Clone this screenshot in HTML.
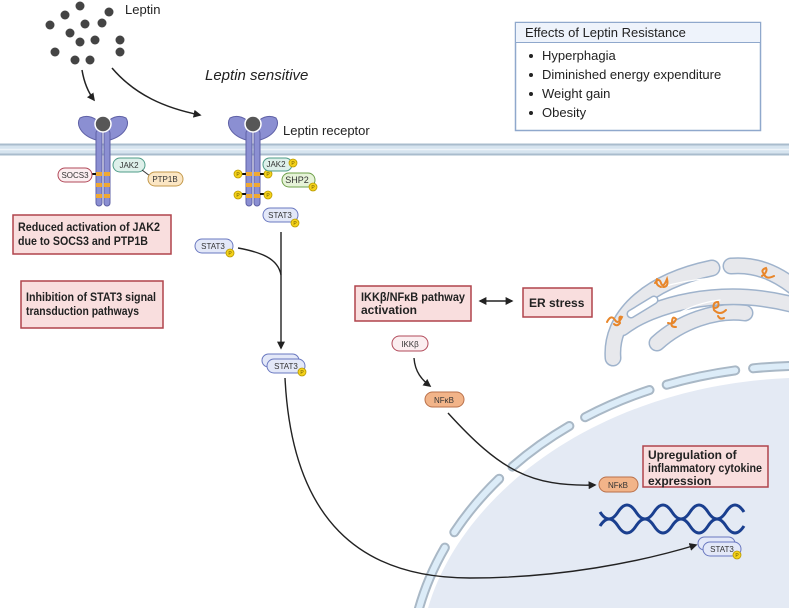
<!DOCTYPE html>
<html><head><meta charset="utf-8"><style>
html,body{margin:0;padding:0;background:#fff}
svg{display:block}
text{font-family:"Liberation Sans",sans-serif}
</style></head><body>
<svg width="789" height="608" viewBox="0 0 789 608" xmlns="http://www.w3.org/2000/svg">
<defs>
<marker id="ah" viewBox="0 0 10 10" refX="8" refY="5" markerWidth="8" markerHeight="8" orient="auto-start-reverse" markerUnits="userSpaceOnUse"><path d="M0,0 L10,5 L0,10 z" fill="#222"/></marker>
<g id="pdot"><circle r="4" fill="#f5d21a" stroke="#b89a00" stroke-width="0.8"/><text y="2" font-size="5" text-anchor="middle" fill="#6b5800">P</text></g>
</defs>

<!-- nucleus -->
<path d="M428 608 C 462 492, 600 386, 789 378 L789 608 Z" fill="#e4eaf4"/>
<path d="M418 612 C 452 484, 592 372, 789 366" fill="none" stroke="#a9b8c6" stroke-width="10" stroke-linecap="round" stroke-dasharray="70 18"/>
<path d="M418 612 C 452 484, 592 372, 789 366" fill="none" stroke="#dcecf8" stroke-width="6" stroke-linecap="round" stroke-dasharray="70 18"/>

<!-- ER -->
<g fill="none" stroke-linecap="round">
<g stroke="#9fb3cc" stroke-width="17">
<path d="M613 358 C 610 318, 645 282, 712 268"/>
<path d="M731 266 C 755 264, 776 272, 798 290"/>
<path d="M622 328 C 650 306, 720 284, 798 306"/>
<path d="M657 343 C 680 322, 715 309, 745 313"/>
</g>
<g stroke="#e7e8ec" stroke-width="14">
<path d="M613 358 C 610 318, 645 282, 712 268"/>
<path d="M731 266 C 755 264, 776 272, 798 290"/>
<path d="M622 328 C 650 306, 720 284, 798 306"/>
<path d="M657 343 C 680 322, 715 309, 745 313"/>
</g>
<path d="M631 314 L 654 300" stroke="#9fb3cc" stroke-width="9"/>
<path d="M631 314 L 654 300" stroke="#fff" stroke-width="6"/>
<path d="M662 287 C 690 279, 720 275, 765 280" stroke="#fff" stroke-width="1.2"/>
<path d="M676 315 C 690 306, 705 302, 720 300" stroke="#fff" stroke-width="1.2"/>
<g stroke="#e8862a" stroke-width="2">
<path d="M607 322 q4 -8 8 -2 q3 5 7 -3 q-4 -2 -2 6 q-3 4 -6 1"/>
<path d="M655 283 q4 -6 6 0 q2 6 6 -4 q2 8 -4 8 m-6 -8 q-2 6 4 8"/>
<path d="M668 323 q6 2 8 -4 q-4 -4 -4 4 q-2 4 4 4"/>
<path d="M714 308 q6 0 4 -6 q-6 0 -4 8 q6 6 12 0 m-8 6 q2 4 6 2"/>
<path d="M762 276 q6 -4 4 -8 q-6 2 -2 6 q2 6 10 2"/>
</g>
</g>

<!-- membrane -->
<rect x="0" y="144" width="789" height="11" fill="#d6e4ef"/>
<line x1="0" y1="144.5" x2="789" y2="144.5" stroke="#a9bccd" stroke-width="2"/>
<line x1="0" y1="154.5" x2="789" y2="154.5" stroke="#a9bccd" stroke-width="2"/>
<line x1="0" y1="149.5" x2="789" y2="149.5" stroke="#eef4f9" stroke-width="1.5"/>

<!-- leptin dots -->
<g fill="#444">
<circle cx="80" cy="6" r="4.5"/><circle cx="65" cy="15" r="4.5"/><circle cx="109" cy="12" r="4.5"/>
<circle cx="50" cy="25" r="4.5"/><circle cx="85" cy="24" r="4.5"/><circle cx="102" cy="23" r="4.5"/>
<circle cx="70" cy="33" r="4.5"/><circle cx="80" cy="42" r="4.5"/><circle cx="95" cy="40" r="4.5"/>
<circle cx="120" cy="40" r="4.5"/><circle cx="55" cy="52" r="4.5"/><circle cx="75" cy="60" r="4.5"/>
<circle cx="90" cy="60" r="4.5"/><circle cx="120" cy="52" r="4.5"/>
</g>
<text x="125" y="14" font-size="13" fill="#222">Leptin</text>
<text x="205" y="80" font-size="15" font-style="italic" fill="#222">Leptin sensitive</text>
<text x="283" y="135" font-size="13" fill="#222">Leptin receptor</text>

<g fill="none" stroke="#222" stroke-width="1.5">
<path d="M82 70 C 84 82, 88 92, 94 100" marker-end="url(#ah)"/>
<path d="M112 68 C 135 95, 165 108, 200 115" marker-end="url(#ah)"/>
</g>

<!-- receptors -->
<g id="rec">
<path d="M96 140 C 80 135, 76 124, 80 118 C 88 114, 96 118, 100 124 Z" fill="#8b8fd2" stroke="#5f61a6"/>
<path d="M110 140 C 126 135, 130 124, 126 118 C 118 114, 110 118, 106 124 Z" fill="#8b8fd2" stroke="#5f61a6"/>
<rect x="96" y="130" width="6" height="76" rx="3" fill="#8b8fd2" stroke="#5f61a6"/>
<rect x="104" y="130" width="6" height="76" rx="3" fill="#8b8fd2" stroke="#5f61a6"/>
<circle cx="103" cy="124" r="8" fill="#575757" stroke="#fff" stroke-width="1.5"/>
<g fill="#f0a830"><rect x="96" y="172" width="6" height="4"/><rect x="104" y="172" width="6" height="4"/>
<rect x="96" y="183" width="6" height="4"/><rect x="104" y="183" width="6" height="4"/>
<rect x="96" y="194" width="6" height="4"/><rect x="104" y="194" width="6" height="4"/></g>
</g>
<use href="#rec" x="150"/>

<g font-size="8" text-anchor="middle" fill="#333">
<line x1="92" y1="174" x2="96" y2="174" stroke="#111" stroke-width="2"/>
<rect x="58" y="168" width="34" height="14" rx="7" fill="#fbeef0" stroke="#b24a5a"/><text x="75" y="178">SOCS3</text>
<rect x="113" y="158" width="32" height="14" rx="7" fill="#def0ea" stroke="#4f9c88"/><text x="129" y="168">JAK2</text>
<line x1="142" y1="170" x2="150" y2="176" stroke="#333"/>
<rect x="148" y="172" width="35" height="14" rx="7" fill="#fbe6c4" stroke="#c49a4c"/><text x="165" y="182">PTP1B</text>

<g stroke="#111" stroke-width="2"><line x1="240" y1="174" x2="246" y2="174"/><line x1="260" y1="174" x2="266" y2="174"/><line x1="240" y1="194" x2="246" y2="194"/><line x1="260" y1="194" x2="266" y2="194"/></g>
<use href="#pdot" x="238" y="174"/><use href="#pdot" x="268" y="174"/><use href="#pdot" x="238" y="195"/><use href="#pdot" x="268" y="195"/>
<rect x="263" y="158" width="29" height="13" rx="6.5" fill="#def0ea" stroke="#4f9c88"/><text x="276" y="167">JAK2</text><use href="#pdot" x="293" y="163"/>
<rect x="282" y="173" width="33" height="14" rx="7" fill="#e6f3d8" stroke="#6fa04a"/><text x="297" y="183" font-size="9">SHP2</text><use href="#pdot" x="313" y="187"/>
<rect x="263" y="208" width="35" height="14" rx="7" fill="#e3e8f8" stroke="#6a78c0"/><text x="280" y="218">STAT3</text><use href="#pdot" x="295" y="223"/>
<rect x="195" y="239" width="38" height="14" rx="7" fill="#e3e8f8" stroke="#6a78c0"/><text x="213" y="249">STAT3</text><use href="#pdot" x="230" y="253"/>
<rect x="262" y="354" width="37" height="13" rx="6.5" fill="#e3e8f8" stroke="#6a78c0"/>
<rect x="267" y="359" width="38" height="14" rx="7" fill="#e3e8f8" stroke="#6a78c0"/><text x="286" y="369">STAT3</text><use href="#pdot" x="302" y="372"/>
<rect x="392" y="336" width="36" height="15" rx="7.5" fill="#fbeef0" stroke="#b24a5a"/><text x="410" y="347">IKKβ</text>
<rect x="425" y="392" width="39" height="15" rx="7.5" fill="#f2b489" stroke="#b9704a"/><text x="444" y="403">NFκB</text>
<rect x="599" y="477" width="39" height="15" rx="7.5" fill="#f2b489" stroke="#b9704a"/><text x="618" y="488">NFκB</text>
<rect x="698" y="537" width="37" height="13" rx="6.5" fill="#e3e8f8" stroke="#6a78c0"/>
<rect x="703" y="542" width="38" height="14" rx="7" fill="#e3e8f8" stroke="#6a78c0"/><text x="722" y="552">STAT3</text><use href="#pdot" x="737" y="555"/>
</g>

<!-- DNA -->
<g fill="none" stroke="#1a3f8f" stroke-width="3">
<path d="M600 512 q9 14 18 0 q9 -14 18 0 q9 14 18 0 q9 -14 18 0 q9 14 18 0 q9 -14 18 0 q9 14 18 0 q9 -14 18 0"/>
<path d="M600 526 q9 -14 18 0 q9 14 18 0 q9 -14 18 0 q9 14 18 0 q9 -14 18 0 q9 14 18 0 q9 -14 18 0 q9 14 18 0"/>
</g>

<!-- connectors -->
<g fill="none" stroke="#222" stroke-width="1.4">
<line x1="281" y1="232" x2="281" y2="348" marker-end="url(#ah)"/>
<path d="M238 248 C 260 252, 278 258, 281 275"/>
<path d="M285 378 C 292 520, 360 578, 470 578 C 560 578, 640 562, 696 545" marker-end="url(#ah)"/>
<path d="M414 358 C 415 372, 422 380, 430 386" marker-end="url(#ah)"/>
<path d="M448 413 C 500 470, 530 487, 595 485" marker-end="url(#ah)"/>
<line x1="480" y1="301" x2="512" y2="301" marker-end="url(#ah)" marker-start="url(#ah)"/>
</g>

<!-- boxes -->
<g fill="#f9dede" stroke="#b0444c" stroke-width="1.5">
<rect x="13" y="215" width="158" height="39"/>
<rect x="21" y="281" width="142" height="47"/>
<rect x="355" y="286" width="116" height="35"/>
<rect x="523" y="288" width="69" height="29"/>
<rect x="643" y="446" width="125" height="41"/>
</g>
<g font-size="12" font-weight="bold" fill="#222">
<text x="18" y="231" textLength="142" lengthAdjust="spacingAndGlyphs">Reduced activation of JAK2</text><text x="18" y="245" textLength="130" lengthAdjust="spacingAndGlyphs">due to SOCS3 and PTP1B</text>
<text x="26" y="301" textLength="130" lengthAdjust="spacingAndGlyphs">Inhibition of STAT3 signal</text><text x="26" y="315" textLength="113" lengthAdjust="spacingAndGlyphs">transduction pathways</text>
<text x="361" y="301" textLength="104" lengthAdjust="spacingAndGlyphs">IKKβ/NFκB pathway</text><text x="361" y="314">activation</text>
<text x="529" y="307">ER stress</text>
<text x="648" y="459">Upregulation of</text><text x="648" y="472" textLength="114" lengthAdjust="spacingAndGlyphs">inflammatory cytokine</text><text x="648" y="485">expression</text>
</g>

<!-- effects -->
<rect x="515.5" y="22.5" width="245" height="108" fill="#fff" stroke="#8fa8cc" stroke-width="1.5"/>
<rect x="516" y="23" width="244" height="19" fill="#eef3fb"/>
<line x1="515" y1="42.5" x2="761" y2="42.5" stroke="#8fa8cc"/>
<g font-size="13" fill="#222">
<text x="525" y="37">Effects of Leptin Resistance</text>
<text x="542" y="60">Hyperphagia</text>
<text x="542" y="79">Diminished energy expenditure</text>
<text x="542" y="98">Weight gain</text>
<text x="542" y="117">Obesity</text>
<circle cx="531" cy="56" r="2"/><circle cx="531" cy="75" r="2"/><circle cx="531" cy="94" r="2"/><circle cx="531" cy="113" r="2"/>
</g>
</svg>
</body></html>
